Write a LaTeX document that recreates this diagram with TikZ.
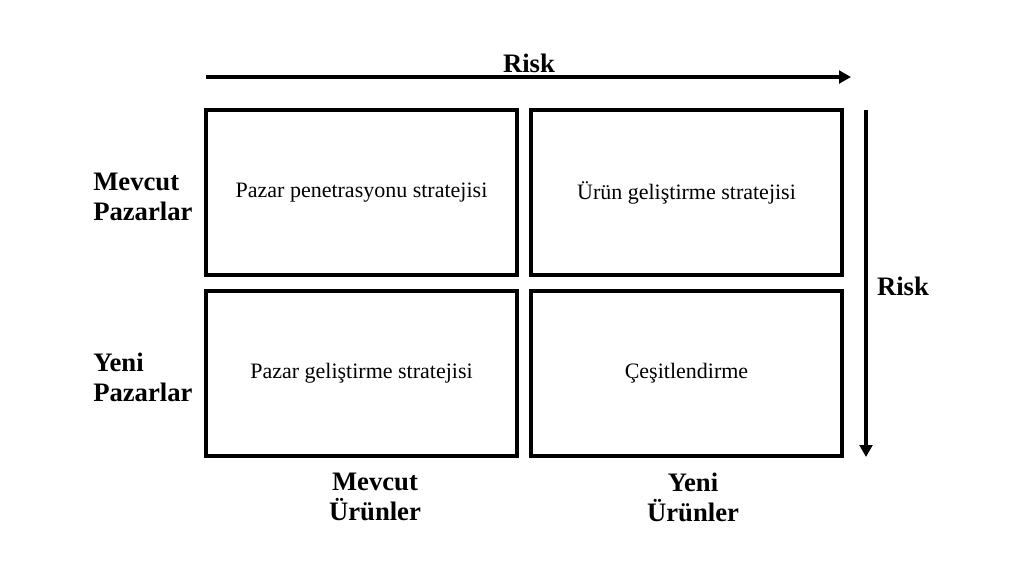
\documentclass[tikz,border=0pt]{standalone}
\usepackage{fontspec}
\setmainfont{Liberation Serif}
\usetikzlibrary{arrows.meta,positioning}

\tikzset{
  cell/.style={draw,line width=2.6pt,minimum width=233.25pt,minimum height=123.75pt,inner sep=0pt,font=\fontsize{16.5}{19}\selectfont},
  axislabel/.style={font=\fontsize{20}{22.5}\selectfont\bfseries,inner sep=0pt},
  riskarrow/.style={line width=2.6pt,-{Triangle[length=9pt,width=9.5pt]}}
}

\begin{document}
\begin{tikzpicture}[x=0.75pt,y=0.75pt,yscale=-1,xscale=1]
  \useasboundingbox (0,0) rectangle (1024,576);

  % cells
  \node [cell] (pp) at (361.5,192.5) {Pazar penetrasyonu stratejisi};
  \node [cell] (ug) at (686.5,192.5) {Ürün geliştirme stratejisi};
  \node [cell] (pg) at (361.5,373.5) {Pazar geliştirme stratejisi};
  \node [cell] (ce) at (686.5,373.5) {Çeşitlendirme};

  % risk arrows
  \coordinate (topstart) at (206,77);
  \coordinate (topend) at (851,77);
  \coordinate (rightstart) at (866,110);
  \coordinate (rightend) at (866,457);
  \draw [riskarrow] (topstart) -- (topend);
  \draw [riskarrow] (rightstart) -- (rightend);
  \node [axislabel] (risktop) at (529,63) {Risk};
  \node [axislabel] (riskright) at (903,286) {Risk};

  % row labels
  \node [axislabel,anchor=west,align=left] (mevcutp) at (93,197) {Mevcut\\Pazarlar};
  \node [axislabel,anchor=west,align=left] (yenip) at (93,377) {Yeni\\Pazarlar};

  % column labels
  \node [axislabel,align=center] (mevcutu) at (375,497) {Mevcut\\Ürünler};
  \node [axislabel,align=center] (yeniu) at (693,497) {Yeni\\Ürünler};
\end{tikzpicture}
\end{document}
